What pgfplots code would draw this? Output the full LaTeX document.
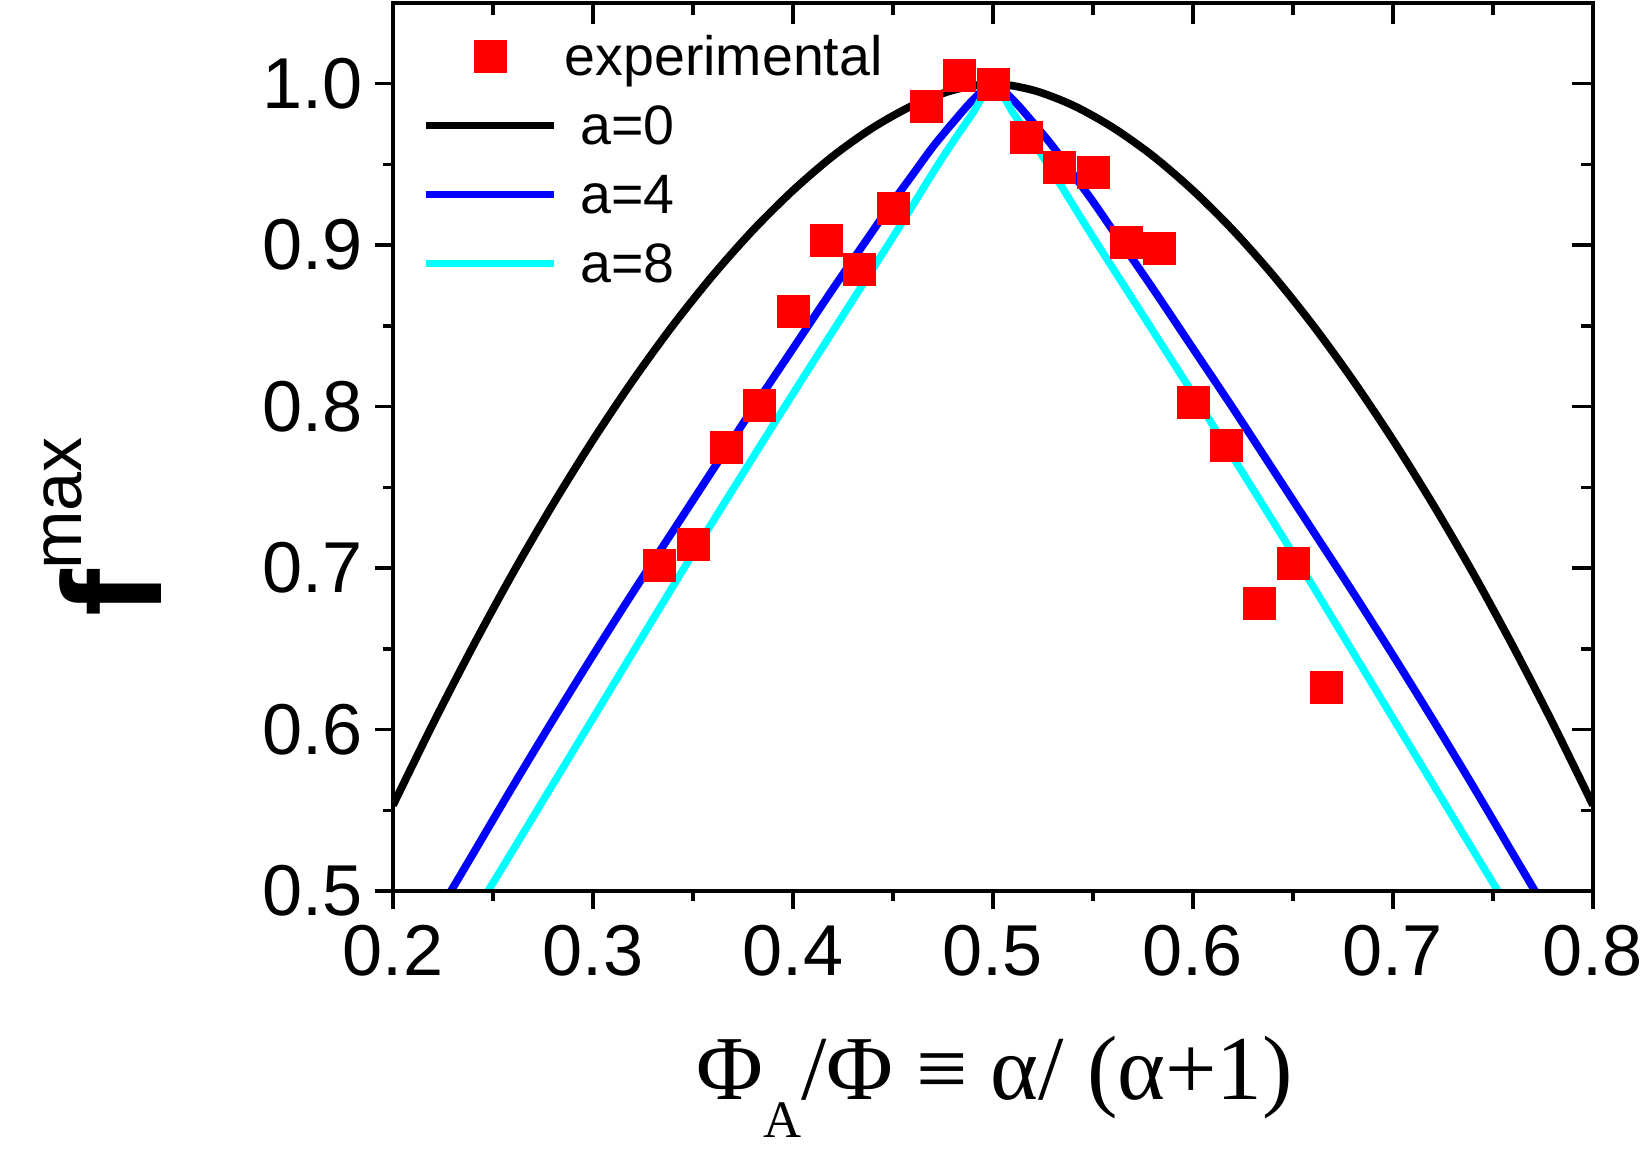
\documentclass[border=0pt]{standalone}
\usepackage{pgfplots}
\pgfplotsset{compat=1.18}
\usepackage{pgfplotstable}
\usepackage{fontspec}
\setmainfont{Liberation Sans}
\newfontfamily\timesfont{Liberation Serif}

\pgfplotsset{
  lineleg/.style={legend image code/.code={\draw[##1] (0cm,0cm) -- (1.28cm,0cm);}},
  markleg/.style={legend image code/.code={\path (0cm,0cm) (1.28cm,0cm); \draw[##1] plot coordinates {(0.64cm,0cm)};}},
}

\pgfplotstableread{
x y
0.3333 0.702
0.3500 0.715
0.3667 0.775
0.3833 0.801
0.4000 0.859
0.4167 0.903
0.4333 0.885
0.4500 0.923
0.4667 0.986
0.4833 1.005
0.5000 1.000
0.5167 0.967
0.5333 0.948
0.5500 0.945
0.5667 0.902
0.5833 0.898
0.6000 0.803
0.6167 0.776
0.6333 0.678
0.6500 0.703
0.6667 0.626
}\expdata

\pgfplotstableread{
x y
0.20 0.5531
0.22 0.6036
0.24 0.6516
0.26 0.6970
0.28 0.7395
0.30 0.7793
0.32 0.8163
0.34 0.8504
0.36 0.8814
0.38 0.9093
0.40 0.9339
0.42 0.9552
0.44 0.9728
0.46 0.9866
0.48 0.9960
0.50 1.0000
0.52 0.9960
0.54 0.9866
0.56 0.9728
0.58 0.9552
0.60 0.9339
0.62 0.9093
0.64 0.8814
0.66 0.8504
0.68 0.8163
0.70 0.7793
0.72 0.7395
0.74 0.6970
0.76 0.6516
0.78 0.6036
0.80 0.5531
}\azero

\pgfplotstableread{
x y
0.229 0.500
0.240 0.523
0.260 0.565
0.280 0.606
0.300 0.646
0.320 0.685
0.340 0.723
0.360 0.761
0.380 0.799
0.400 0.836
0.420 0.873
0.440 0.909
0.450 0.927
0.460 0.944
0.470 0.961
0.480 0.976
0.490 0.990
0.500 1.000
0.510 0.990
0.520 0.976
0.530 0.961
0.540 0.944
0.550 0.927
0.560 0.909
0.580 0.873
0.600 0.836
0.620 0.799
0.640 0.761
0.660 0.723
0.680 0.685
0.700 0.646
0.720 0.606
0.740 0.565
0.760 0.523
0.771 0.500
}\afour

\pgfplotstableread{
x y
0.2473 0.500
0.2500 0.505
0.3000 0.607
0.3500 0.709
0.4000 0.808
0.4500 0.905
0.4700 0.945
0.4800 0.964
0.4900 0.982
0.5000 1.000
0.5100 0.982
0.5200 0.964
0.5300 0.945
0.5500 0.905
0.6000 0.808
0.6500 0.709
0.7000 0.607
0.7500 0.505
0.7527 0.500
}\aeight

\begin{document}
\begin{tikzpicture}
\path[use as bounding box] (-3.93,-2.64) rectangle (12.57,8.91);
\begin{axis}[
  at={(0,0)}, anchor=south west,
  scale only axis, width=12cm, height=8.88cm,
  xmin=0.2, xmax=0.8, ymin=0.5, ymax=1.05,
  xtick={0.2,0.3,0.4,0.5,0.6,0.7,0.8},
  ytick={0.5,0.6,0.7,0.8,0.9,1.0},
  minor x tick num=1, minor y tick num=1,
  xtick pos=bottom, ytick pos=left, tick align=outside,
  major tick length=0.18cm, minor tick length=0.1cm,
  axis line style={line width=1pt},
  every tick/.style={black, line width=1pt},
  tick label style={font=\fontsize{20.5}{24}\selectfont},
  xticklabel style={yshift=-0.04cm},
  /pgf/number format/assume math mode=true,
  xticklabel style={/pgf/number format/.cd, fixed, fixed zerofill, precision=1},
  yticklabel style={/pgf/number format/.cd, fixed, fixed zerofill, precision=1},
  xlabel={{\timesfont\fontsize{26}{30}\selectfont Φ\raisebox{-0.38cm}{\fontsize{15}{17}\selectfont A}/Φ ≡ α/ (α+1)}},
  every axis x label/.style={at={(rel axis cs:0.2525,0)}, anchor=base west, yshift=-2.09cm, inner sep=0pt},
  ylabel={{\fontsize{40}{44}\selectfont\bfseries f}{\fontsize{20}{24}\selectfont\raisebox{0.8cm}{max}}},
  every axis y label/.style={at={(rel axis cs:0,0.41)}, rotate=90, anchor=south, yshift=2.31cm, inner sep=0pt},
  lineleg,
  legend style={draw=none, fill=none, at={(rel axis cs:0,1)}, anchor=north west,
    xshift=0.29cm, yshift=-0.26cm, inner sep=0pt, outer sep=0pt,
    font=\fontsize{15.8}{18}\selectfont, row sep=0.14cm, column sep=0.07cm,
    nodes={inner sep=0pt, text height=0.47cm, text depth=0.08cm}},
  legend cell align=left,
  clip=true,
]
\addplot[only marks, mark=square*, mark size=0.16cm, color=red,
  mark options={solid, line width=0.1pt, fill=red, draw=red}, markleg]
  table[x=x, y=y] {\expdata};
\addlegendentry{experimental}
\addplot[black, line width=2.2pt, no marks, smooth, line join=round] table[x=x, y=y] {\azero};
\addlegendentry{\ a=0}
\addplot[color={rgb,255:red,0;green,0;blue,255}, line width=2.2pt, no marks, smooth, line join=round] table[x=x, y=y] {\afour};
\addlegendentry{\ a=4}
\addplot[color={rgb,255:red,0;green,255;blue,255}, line width=2.1pt, no marks, smooth, line join=round] table[x=x, y=y] {\aeight};
\addlegendentry{\ a=8}
\end{axis}
\begin{axis}[
  at={(0,0)}, anchor=south west,
  scale only axis, width=12cm, height=8.88cm,
  xmin=0.2, xmax=0.8, ymin=0.5, ymax=1.05,
  xtick={0.2,0.3,0.4,0.5,0.6,0.7,0.8},
  ytick={0.5,0.6,0.7,0.8,0.9,1.0},
  minor x tick num=1, minor y tick num=1,
  xtick pos=top, ytick pos=right, tick align=inside,
  major tick length=0.21cm, minor tick length=0.12cm,
  axis line style={line width=1pt},
  every tick/.style={black, line width=1pt},
  xticklabels={}, yticklabels={},
]
\end{axis}
\end{tikzpicture}
\end{document}
